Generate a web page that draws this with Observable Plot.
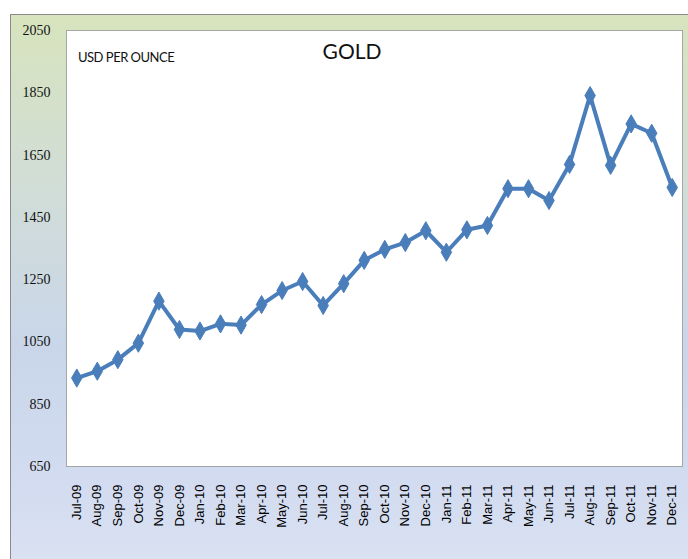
<!DOCTYPE html>
<html>
<head>
<meta charset="utf-8">
<script src="https://cdn.jsdelivr.net/npm/d3@7"></script>
<script src="https://cdn.jsdelivr.net/npm/@observablehq/plot@0.6"></script>
<style>
  html, body { margin: 0; padding: 0; background: #ffffff; }
  #wrap { position: relative; width: 688px; height: 559px; overflow: hidden; }
  #box { position: absolute; left: 10px; top: 14px; width: 700px; height: 560px;
         border-top: 1px solid #8a8a8a; border-left: 1px solid #8a8a8a;
         background: linear-gradient(180deg, #d7e4bd 0%, #d1ddd6 30%, #c9d6ea 60%, #d3dcf0 85%, #dbe2f3 100%); }
  #chart { position: absolute; left: 0; top: 0; }
  .title { position: absolute; left: 0; width: 704px; top: 38px; text-align: center;
           font-family: Lato, sans-serif; font-size: 21px; color: #111; }
  .unit { position: absolute; left: 78px; top: 49px; font-family: Lato, sans-serif;
          font-size: 13px; letter-spacing: -0.5px; color: #111; }
</style>
</head>
<body>
<div id="wrap">
  <div id="box"></div>
  <div id="chart"></div>
  <div class="title">GOLD</div>
  <div class="unit">USD PER OUNCE</div>
</div>
<script>
const months = ["Jul-09","Aug-09","Sep-09","Oct-09","Nov-09","Dec-09","Jan-10","Feb-10","Mar-10","Apr-10",
  "May-10","Jun-10","Jul-10","Aug-10","Sep-10","Oct-10","Nov-10","Dec-10","Jan-11","Feb-11",
  "Mar-11","Apr-11","May-11","Jun-11","Jul-11","Aug-11","Sep-11","Oct-11","Nov-11","Dec-11"];
const prices = [934, 956, 993, 1046, 1181, 1090, 1085, 1108, 1104, 1170,
  1215, 1244, 1167, 1237, 1312, 1347, 1369, 1407, 1338, 1410,
  1424, 1542, 1542, 1504, 1620, 1841, 1617, 1750, 1720, 1546];
const yTicks = [650, 850, 1050, 1250, 1450, 1650, 1850, 2050];

const data = months.map((m, i) => ({month: m, price: prices[i]}));
const blue = "#4a7ebb";

const plot = Plot.plot({
  width: 688,
  height: 559,
  marginLeft: 66,
  marginRight: 6,
  marginTop: 30,
  marginBottom: 93,
  style: {background: "transparent", overflow: "visible"},
  x: {type: "point", domain: months, padding: 0.5, round: false, label: null},
  y: {domain: [650, 2050], label: null},
  marks: [
    Plot.frame({fill: "white", stroke: "#a6a6a6"}),
    Plot.axisY({ticks: yTicks, tickFormat: d => String(d), tickSize: 0, tickPadding: 16, label: null,
      fontFamily: "Liberation Serif, serif", fontSize: 14, fill: "#111",
      style: {letterSpacing: "1px"}}),
    Plot.axisX({tickSize: 0, tickPadding: 18, tickRotate: -90, label: null,
      fontFamily: "Liberation Sans, Arial, sans-serif", fontSize: 13, fill: "#000",
      style: {letterSpacing: "2.8px"}}),
    Plot.line(data, {x: "month", y: "price", stroke: blue, strokeWidth: 4, strokeLinejoin: "round"}),
    Plot.dot(data, {x: "month", y: "price", symbol: "diamond", r: 5.5, fill: blue, stroke: blue, strokeWidth: 1})
  ]
});
document.getElementById("chart").appendChild(plot);
</script>
</body>
</html>
